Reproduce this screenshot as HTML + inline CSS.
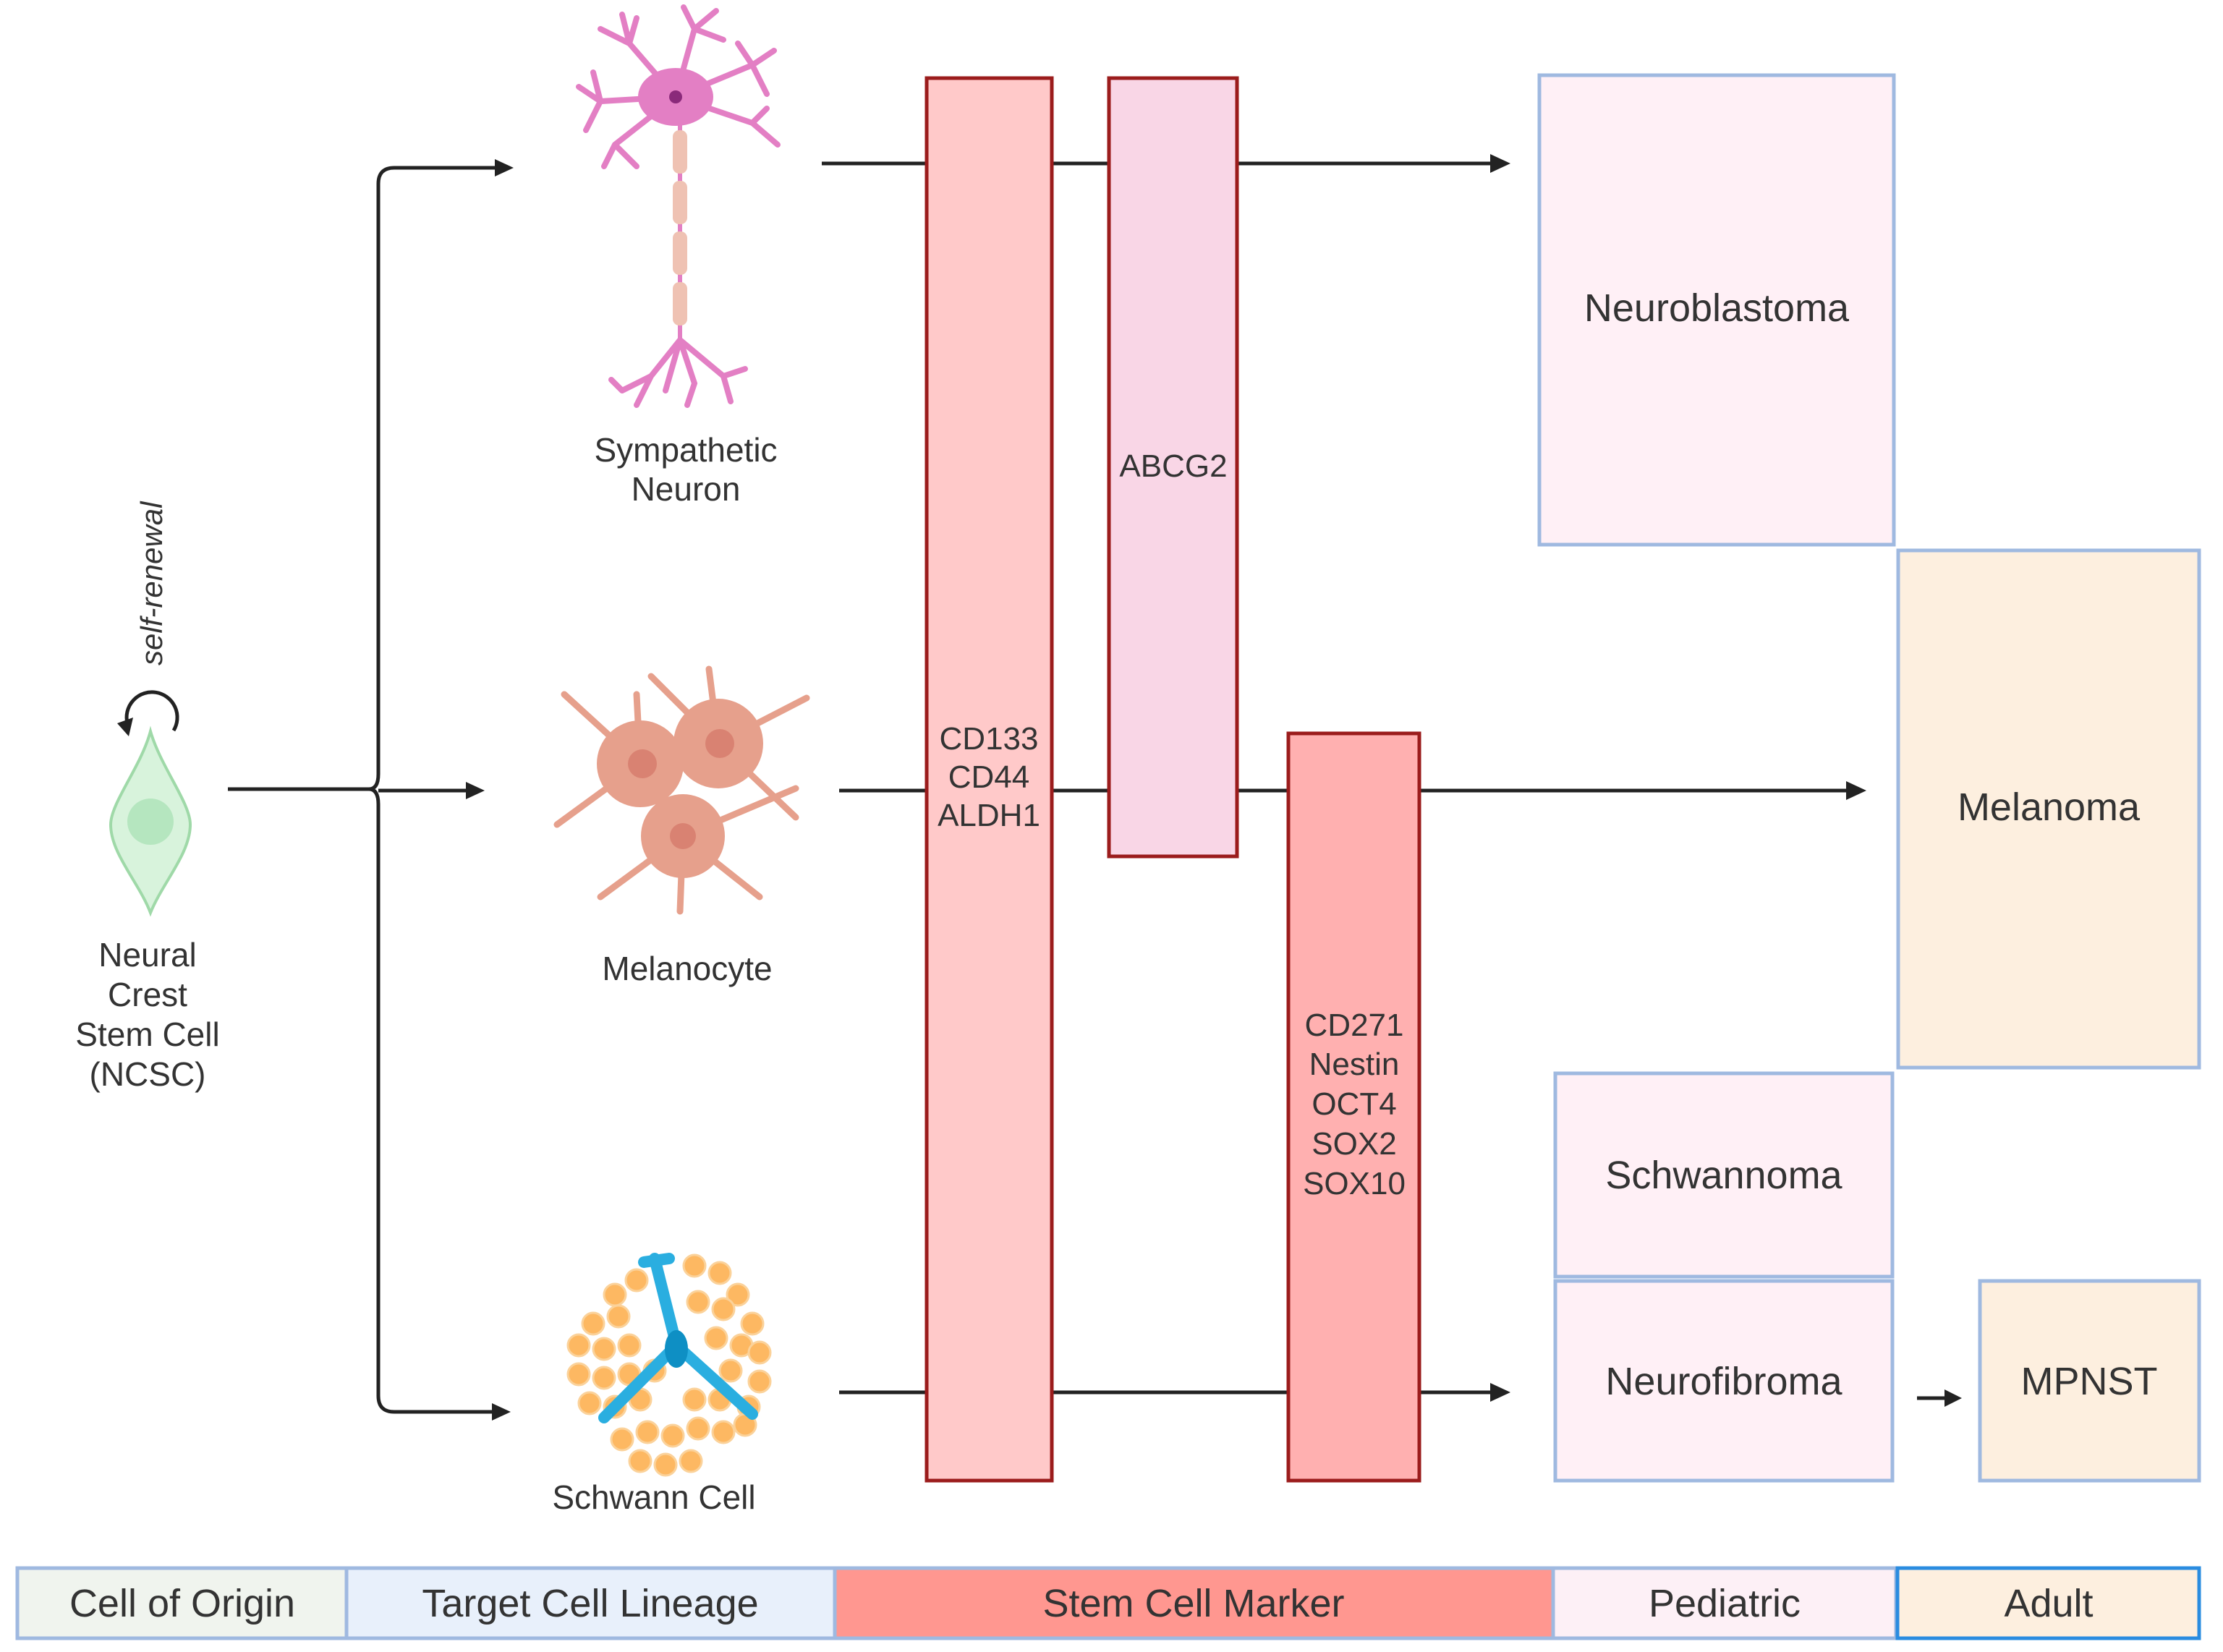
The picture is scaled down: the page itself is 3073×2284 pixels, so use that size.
<!DOCTYPE html>
<html><head><meta charset="utf-8"><style>
html,body{margin:0;padding:0;background:#fff}
svg{display:block}
text{font-family:"Liberation Sans",sans-serif;fill:#333}
</style></head><body>
<svg width="3073" height="2284" viewBox="0 0 3073 2284" xmlns="http://www.w3.org/2000/svg">
<rect width="3073" height="2284" fill="#fff"/>

<g stroke="#222" stroke-width="5" fill="none">
<line x1="315" y1="1091" x2="515" y2="1091"/>
<path d="M690 232 H545 Q523 232 523 254 V1070 Q523 1091 510 1091 Q523 1091 523 1112 V1930 Q523 1952 545 1952 H685"/>
<line x1="523" y1="1093" x2="650" y2="1093"/>
<line x1="1136" y1="226" x2="2066" y2="226"/>
<line x1="1160" y1="1093" x2="2556" y2="1093"/>
<line x1="1160" y1="1925" x2="2066" y2="1925"/>
<line x1="2650" y1="1933" x2="2690" y2="1933"/>
</g>
<g fill="#222">
<polygon points="710,232 684,220 684,244"/>
<polygon points="670,1093 644,1081 644,1105"/>
<polygon points="706,1952 680,1940 680,1964"/>
<polygon points="2088,226 2060,213 2060,239"/>
<polygon points="2580,1093 2552,1080 2552,1106"/>
<polygon points="2088,1925 2060,1912 2060,1938"/>
<polygon points="2712,1933 2688,1921 2688,1945"/>
</g>

<rect x="1281" y="108" width="173" height="1939" fill="#ffc9c9" stroke="#9b1c1c" stroke-width="5"/>
<rect x="1533" y="108" width="177" height="1076" fill="#f9d6e6" stroke="#9b1c1c" stroke-width="5"/>
<rect x="1781" y="1014" width="181" height="1033" fill="#ffb0b0" stroke="#9b1c1c" stroke-width="5"/>
<g font-size="44" text-anchor="middle">
<text x="1367" y="1036">CD133</text>
<text x="1367" y="1089">CD44</text>
<text x="1367" y="1142">ALDH1</text>
<text x="1622" y="659">ABCG2</text>
<text x="1872" y="1432">CD271</text>
<text x="1872" y="1486">Nestin</text>
<text x="1872" y="1541">OCT4</text>
<text x="1872" y="1596">SOX2</text>
<text x="1872" y="1651">SOX10</text>
</g>

<g stroke="#9fb9e0" stroke-width="5">
<rect x="2128" y="104" width="490" height="649" fill="#fff0f6"/>
<rect x="2624" y="761" width="416" height="715" fill="#fdefdf"/>
<rect x="2150" y="1484" width="466" height="281" fill="#fff0f6"/>
<rect x="2150" y="1771" width="466" height="276" fill="#fff0f6"/>
<rect x="2737" y="1771" width="303" height="276" fill="#fdefdf"/>
</g>
<g font-size="54" text-anchor="middle">
<text x="2373" y="444">Neuroblastoma</text>
<text x="2832" y="1134">Melanoma</text>
<text x="2383" y="1643">Schwannoma</text>
<text x="2383" y="1928">Neurofibroma</text>
<text x="2888" y="1928">MPNST</text>
</g>

<g stroke="#9fb9e0" stroke-width="5">
<rect x="24" y="2168" width="455" height="97" fill="#f0f4ee"/>
<rect x="479" y="2168" width="675" height="97" fill="#e8f0fb"/>
<rect x="1154" y="2168" width="993" height="97" fill="#ff9790"/>
<rect x="2147" y="2168" width="474" height="97" fill="#fdf0f6"/>
</g>
<rect x="2623" y="2168" width="417" height="97" fill="#fdefdf" stroke="#2a8ce0" stroke-width="5"/>
<g font-size="54" text-anchor="middle">
<text x="252" y="2235">Cell of Origin</text>
<text x="816" y="2235">Target Cell Lineage</text>
<text x="1650" y="2235">Stem Cell Marker</text>
<text x="2384" y="2235">Pediatric</text>
<text x="2832" y="2235">Adult</text>
</g>

<path d="M208 1011 C222 1060 263 1110 263 1140 C263 1180 225 1220 208 1262 C192 1220 153 1180 153 1140 C153 1110 195 1060 208 1011 Z" fill="#d8f3dc" stroke="#9fd9a8" stroke-width="4"/>
<circle cx="208" cy="1136" r="32" fill="#b5e6bf"/>
<path d="M240 1010 A35 35 0 1 0 176 1000" fill="none" stroke="#222" stroke-width="5"/>
<polygon points="162,1000 184,992 178,1018" fill="#222"/>
<text transform="translate(224,920) rotate(-90)" font-size="42" font-style="italic">self-renewal</text>
<g font-size="46" text-anchor="middle">
<text x="204" y="1336">Neural</text>
<text x="204" y="1391">Crest</text>
<text x="204" y="1446">Stem Cell</text>
<text x="204" y="1501">(NCSC)</text>
</g>

<g stroke="#e37fc4" stroke-width="8" fill="none" stroke-linecap="round">
<path d="M934 134 L870 60 L860 20 M870 60 L830 40 M870 60 L880 25 M934 134 L960 40 L990 15 M960 40 L1000 55 M960 40 L945 10 M934 134 L1040 90 L1070 70 M1040 90 L1060 130 M1040 90 L1020 60 M934 134 L1040 170 L1075 200 M1040 170 L1060 150 M934 134 L830 140 L800 120 M830 140 L810 180 M830 140 L820 100 M934 134 L850 200 L835 230 M850 200 L880 230"/>
<path d="M940 470 L900 520 L860 540 M900 520 L880 560 M940 470 L960 530 L950 560 M940 470 L1000 520 L1030 510 M1000 520 L1010 555 M940 470 L920 540 M860 540 L845 525"/>
</g>
<ellipse cx="934" cy="134" rx="52" ry="40" fill="#e37fc4"/>
<circle cx="934" cy="134" r="9" fill="#8a2a7a"/>
<line x1="940" y1="170" x2="940" y2="470" stroke="#e37fc4" stroke-width="6"/>
<g fill="#efc2b3">
<rect x="930" y="180" width="20" height="60" rx="9"/>
<rect x="930" y="250" width="20" height="60" rx="9"/>
<rect x="930" y="320" width="20" height="60" rx="9"/>
<rect x="930" y="390" width="20" height="60" rx="9"/>
</g>
<g font-size="46" text-anchor="middle">
<text x="948" y="638">Sympathetic</text>
<text x="948" y="692">Neuron</text>
</g>

<g stroke="#e6a08c" stroke-width="9" stroke-linecap="round">
<line x1="885" y1="1056" x2="780" y2="960"/>
<line x1="885" y1="1056" x2="770" y2="1140"/>
<line x1="885" y1="1056" x2="880" y2="960"/>
<line x1="993" y1="1028" x2="980" y2="925"/>
<line x1="993" y1="1028" x2="1115" y2="965"/>
<line x1="993" y1="1028" x2="900" y2="935"/>
<line x1="993" y1="1028" x2="1100" y2="1130"/>
<line x1="944" y1="1156" x2="940" y2="1260"/>
<line x1="944" y1="1156" x2="830" y2="1240"/>
<line x1="944" y1="1156" x2="1050" y2="1240"/>
<line x1="944" y1="1156" x2="1100" y2="1090"/>
</g>
<g fill="#e6a08c">
<circle cx="885" cy="1056" r="60"/>
<circle cx="993" cy="1028" r="62"/>
<circle cx="944" cy="1156" r="58"/>
</g>
<g fill="#d98272">
<circle cx="888" cy="1056" r="20"/>
<circle cx="995" cy="1028" r="20"/>
<circle cx="944" cy="1156" r="18"/>
</g>
<text x="950" y="1355" font-size="46" text-anchor="middle">Melanocyte</text>

<g fill="#fdb862" stroke="#fbd29a" stroke-width="3">
<circle cx="850" cy="1790" r="15"/><circle cx="880" cy="1770" r="15"/><circle cx="960" cy="1750" r="15"/><circle cx="995" cy="1760" r="15"/><circle cx="1020" cy="1790" r="15"/>
<circle cx="820" cy="1830" r="15"/><circle cx="855" cy="1820" r="15"/><circle cx="965" cy="1800" r="15"/><circle cx="1000" cy="1810" r="15"/><circle cx="1040" cy="1830" r="15"/>
<circle cx="800" cy="1860" r="15"/><circle cx="835" cy="1865" r="15"/><circle cx="870" cy="1860" r="15"/><circle cx="990" cy="1850" r="15"/><circle cx="1025" cy="1860" r="15"/><circle cx="1050" cy="1870" r="15"/>
<circle cx="800" cy="1900" r="15"/><circle cx="835" cy="1905" r="15"/><circle cx="870" cy="1900" r="15"/><circle cx="905" cy="1895" r="15"/><circle cx="1010" cy="1895" r="15"/><circle cx="1050" cy="1910" r="15"/>
<circle cx="815" cy="1940" r="15"/><circle cx="850" cy="1945" r="15"/><circle cx="885" cy="1935" r="15"/><circle cx="960" cy="1935" r="15"/><circle cx="995" cy="1935" r="15"/><circle cx="1035" cy="1945" r="15"/>
<circle cx="860" cy="1990" r="15"/><circle cx="895" cy="1980" r="15"/><circle cx="930" cy="1985" r="15"/><circle cx="965" cy="1975" r="15"/><circle cx="1000" cy="1980" r="15"/><circle cx="1030" cy="1970" r="15"/>
<circle cx="885" cy="2020" r="15"/><circle cx="920" cy="2025" r="15"/><circle cx="955" cy="2020" r="15"/>
</g>
<g stroke="#2aaee0" stroke-width="16" fill="none" stroke-linecap="round">
<path d="M905 1740 L935 1860"/>
<path d="M935 1860 L835 1960"/>
<path d="M935 1860 L1040 1955"/>
<path d="M890 1745 L925 1740"/>
</g>
<ellipse cx="935" cy="1865" rx="16" ry="26" fill="#0e8fc4"/>
<text x="904" y="2086" font-size="46" text-anchor="middle">Schwann Cell</text>
</svg>
</body></html>
